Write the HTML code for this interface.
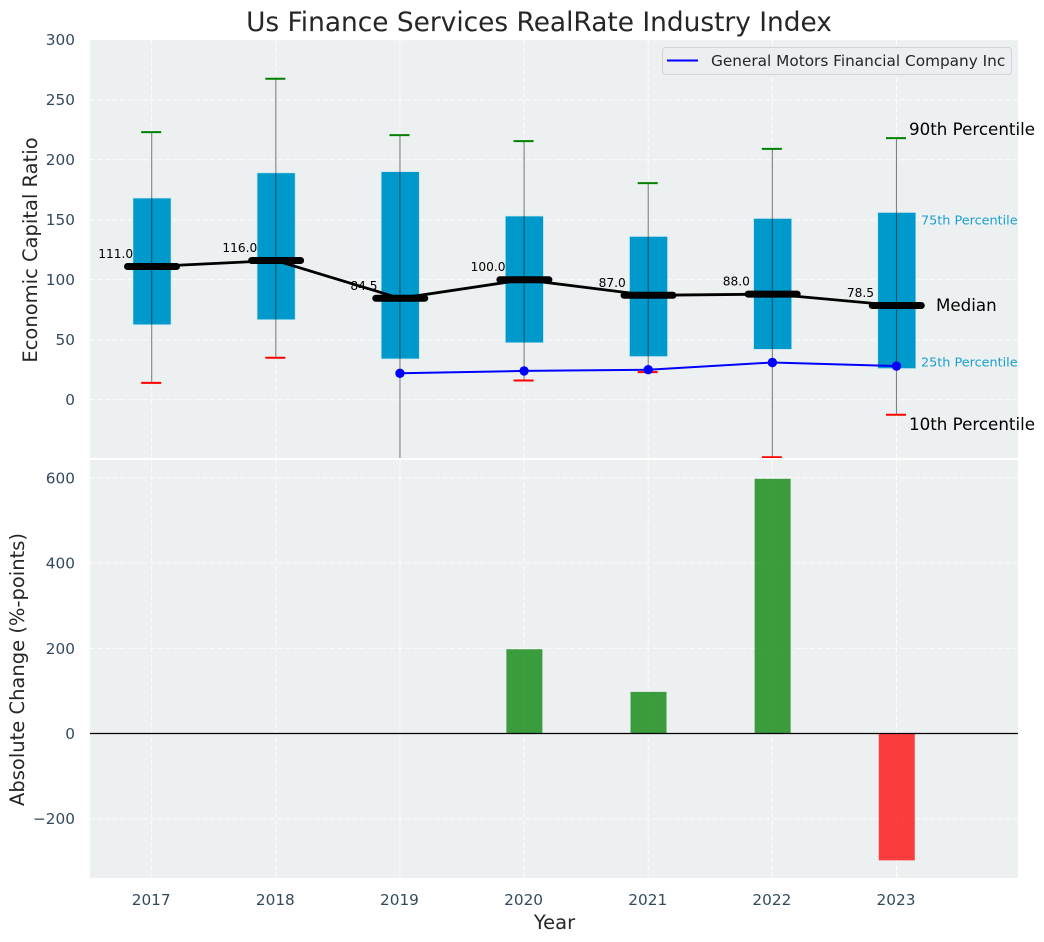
<!DOCTYPE html>
<html>
<head>
<meta charset="utf-8">
<title>Us Finance Services RealRate Industry Index</title>
<style>
html,body{margin:0;padding:0;background:#fff}
svg{display:block}
text{font-family:"DejaVu Sans","Liberation Sans",sans-serif}
</style>
</head>
<body>
<svg id="chart" width="1044" height="942" viewBox="0 0 1044 942" xmlns="http://www.w3.org/2000/svg">
  <defs>
    <clipPath id="clip-top"><rect x="90" y="40" width="928" height="418"/></clipPath>
    <clipPath id="clip-bottom"><rect x="90" y="460" width="928" height="418"/></clipPath>
  </defs>
  <rect x="90" y="40" width="928" height="418" fill="#ecf0f1"/>
  <rect x="90" y="460" width="928" height="418" fill="#ecf0f1"/>
  <g id="grid"></g>
  <g id="top-marks" clip-path="url(#clip-top)"></g>
  <g id="bottom-marks" clip-path="url(#clip-bottom)"></g>
  <g id="ticks"></g>
  <text x="539" y="31" font-size="26.4px" text-anchor="middle" fill="#262626">Us Finance Services RealRate Industry Index</text>
  <text transform="translate(37,250) rotate(-90)" font-size="19.5px" text-anchor="middle" fill="#262626">Economic Capital Ratio</text>
  <text transform="translate(24,669.5) rotate(-90)" font-size="19.5px" text-anchor="middle" fill="#262626">Absolute Change (%-points)</text>
  <text x="554.5" y="929" font-size="19.5px" text-anchor="middle" fill="#262626">Year</text>
  <g>
    <rect x="662.5" y="47.5" width="349" height="27" rx="3" fill="#eceef2" stroke="#d2d3d5" stroke-width="1"/>
    <line x1="667" y1="60.5" x2="698" y2="60.5" stroke="#0000ff" stroke-width="2"/>
    <text x="711" y="66" font-size="15.3px" fill="#262626">General Motors Financial Company Inc</text>
  </g>
  <g>
    <text x="909" y="135" font-size="16.7px" fill="#000">90th Percentile</text>
    <text x="921" y="224.5" font-size="12.8px" fill="#1a9fd0">75th Percentile</text>
    <text x="936" y="311" font-size="16.7px" fill="#000">Median</text>
    <text x="921" y="366.5" font-size="12.8px" fill="#1a9fd0">25th Percentile</text>
    <text x="909" y="430" font-size="16.7px" fill="#000">10th Percentile</text>
  </g>
</svg>
<script>
const years = [2017, 2018, 2019, 2020, 2021, 2022, 2023];
const p90 = [223, 267.5, 220.5, 215.5, 180.5, 209, 218];
const p75 = [168, 189, 190, 153, 136, 151, 156];
const median = [111, 116, 84.5, 100, 87, 88, 78.5];
const p25 = [62.5, 66.7, 34, 47.5, 36, 42, 26];
const p10 = [14, 35, -60, 16, 23, -48, -12.5];
const companyYears = [2019, 2020, 2021, 2022, 2023];
const companyValues = [22, 24, 25, 31, 28];
const changeYears = [2020, 2021, 2022, 2023];
const changeValues = [200, 100, 600, -300];
const topTicks = [0, 50, 100, 150, 200, 250, 300];
const bottomTicks = [-200, 0, 200, 400, 600];

const NS = 'http://www.w3.org/2000/svg';
function xAxis(year) { return 151.7 + 124.13 * (year - 2017); }
function yTop(v) { return 399.7 - 1.2 * v; }
function yBottom(v) { return 733.5 - 0.4262 * v; }
function make(parent, tag, attrs, content) {
  const el = document.createElementNS(NS, tag);
  for (const k in attrs) el.setAttribute(k, attrs[k]);
  if (content !== undefined) el.textContent = content;
  parent.appendChild(el);
  return el;
}
const grid = document.getElementById('grid');
const ticks = document.getElementById('ticks');
const topMarks = document.getElementById('top-marks');
const bottomMarks = document.getElementById('bottom-marks');
const gridStyle = { stroke: '#ffffff', 'stroke-width': 1, 'stroke-dasharray': '5 2.5', opacity: 0.85 };

years.forEach(function (yr) {
  const x = xAxis(yr);
  let el = make(grid, 'line', Object.assign({ x1: x, x2: x, y1: 40, y2: 458 }, gridStyle));
  
  
  el = make(grid, 'line', Object.assign({ x1: x, x2: x, y1: 460, y2: 878 }, gridStyle));
  
  
  el = make(ticks, 'text', { x: x - 0.5, y: 905, 'font-size': '15.3px', 'text-anchor': 'middle', fill: '#34495e' }, String(yr));
  
  
});
topTicks.forEach(function (v) {
  const y = yTop(v);
  let el = make(grid, 'line', Object.assign({ x1: 90, x2: 1018, y1: y, y2: y }, gridStyle));
  
  
  el = make(ticks, 'text', { x: 75, y: y + 5.5, 'font-size': '15.3px', 'text-anchor': 'end', fill: '#34495e' }, String(v));
  
  
});
bottomTicks.forEach(function (v) {
  const y = yBottom(v);
  let el = make(grid, 'line', Object.assign({ x1: 90, x2: 1018, y1: y, y2: y }, gridStyle));
  
  
  el = make(ticks, 'text', { x: 75, y: y + 5.5, 'font-size': '15.3px', 'text-anchor': 'end', fill: '#34495e' }, String(v).replace('-', '\u2212'));
  
  
});

years.forEach(function (yr, i) {
  const x = xAxis(yr);
  const box = make(topMarks, 'rect', { x: x + 0.3 - 19, y: yTop(p75[i]), width: 38, height: yTop(p25[i]) - yTop(p75[i]), fill: '#0099cc', stroke: '#bfe3ee', 'stroke-width': 0.6 });
  
  
  const label = make(topMarks, 'text', { x: x - 36, y: yTop(median[i]) - 8.5, 'font-size': '12.2px', 'text-anchor': 'middle', fill: '#000' }, median[i].toFixed(1));
  
  
});

const medianLine = make(topMarks, 'polyline', { points: years.map(function (yr, i) { return xAxis(yr) + ',' + yTop(median[i]); }).join(' '), fill: 'none', stroke: '#000', 'stroke-width': 2.8 });



years.forEach(function (yr, i) {
  const x = xAxis(yr);
  const bar = make(topMarks, 'line', { x1: x + 0.3 - 24.5, x2: x + 0.3 + 24.5, y1: yTop(median[i]), y2: yTop(median[i]), stroke: '#000', 'stroke-width': 7, 'stroke-linecap': 'round' });
  
  
  const whisker = make(topMarks, 'line', { x1: x, x2: x, y1: yTop(p90[i]), y2: yTop(p10[i]), stroke: '#000', 'stroke-opacity': 0.48, 'stroke-width': 1.1 });
  
  
  const capHigh = make(topMarks, 'line', { x1: x - 10.5, x2: x + 9.5, y1: yTop(p90[i]), y2: yTop(p90[i]), stroke: '#008000', 'stroke-width': 2 });
  
  
  const capLow = make(topMarks, 'line', { x1: x - 10.5, x2: x + 9.5, y1: yTop(p10[i]), y2: yTop(p10[i]), stroke: '#ff0000', 'stroke-width': 2 });
  
  
});

const companyLine = make(topMarks, 'polyline', { points: companyYears.map(function (yr, i) { return xAxis(yr) + ',' + yTop(companyValues[i]); }).join(' '), fill: 'none', stroke: '#0000ff', 'stroke-width': 2 });


companyYears.forEach(function (yr, i) {
  const pt = make(topMarks, 'circle', { cx: xAxis(yr), cy: yTop(companyValues[i]), r: 4.7, fill: '#0000ff' });
  
  
});

changeYears.forEach(function (yr, i) {
  const v = changeValues[i];
  const y0 = yBottom(0), y1 = yBottom(v);
  const top = Math.min(y0, y1) + (v >= 0 ? 1 : 0);
  const height = Math.abs(y1 - y0) - 1;
  const bar = make(bottomMarks, 'rect', { x: xAxis(yr) + 0.3 - 18, y: top, width: 36, height: height, fill: v >= 0 ? '#008000' : '#ff0000', 'fill-opacity': 0.75 });
  
  
});
const zero = make(bottomMarks, 'line', { x1: 90, x2: 1018, y1: yBottom(0), y2: yBottom(0), stroke: '#000', 'stroke-width': 1.2 });


</script>
</body>
</html>
